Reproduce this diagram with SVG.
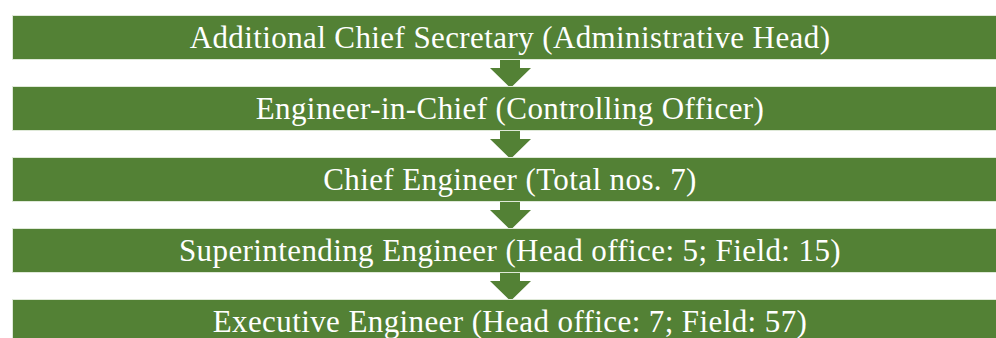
<svg xmlns="http://www.w3.org/2000/svg" width="996" height="338" viewBox="0 0 996 338">
<style>
.box{fill:#538135;stroke:#dfe9d8;stroke-width:1}
.arr{fill:#538135}
.t{font-family:"Liberation Serif","Times New Roman",serif;font-size:31px;letter-spacing:0.4px;fill:#ffffff;text-anchor:middle}
</style>
<rect width="996" height="338" fill="#ffffff"/>
<g id="connectors">
<path class="arr" d="M500,59 H520 V68 H531 L510.5,88 L490,68 H500 Z"/>
<path class="arr" d="M500,130 H520 V139 H531 L510.5,159 L490,139 H500 Z"/>
<path class="arr" d="M500,201 H520 V210 H531 L510.5,230 L490,210 H500 Z"/>
<path class="arr" d="M500,272 H520 V281 H531 L510.5,301 L490,281 H500 Z"/>
</g>
<g id="n1"><rect class="box" x="12.5" y="15.5" width="990" height="44"/><text class="t" x="510" y="47.5">Additional Chief Secretary (Administrative Head)</text></g>
<g id="n2"><rect class="box" x="12.5" y="86.5" width="990" height="44"/><text class="t" x="510" y="118.5">Engineer-in-Chief (Controlling Officer)</text></g>
<g id="n3"><rect class="box" x="12.5" y="157.5" width="990" height="44"/><text class="t" x="510" y="189.5">Chief Engineer (Total nos. 7)</text></g>
<g id="n4"><rect class="box" x="12.5" y="228.5" width="990" height="44"/><text class="t" x="510" y="260.5">Superintending Engineer (Head office: 5; Field: 15)</text></g>
<g id="n5"><rect class="box" x="12.5" y="299.5" width="990" height="44"/><text class="t" x="510" y="331.5">Executive Engineer (Head office: 7; Field: 57)</text></g>
</svg>
